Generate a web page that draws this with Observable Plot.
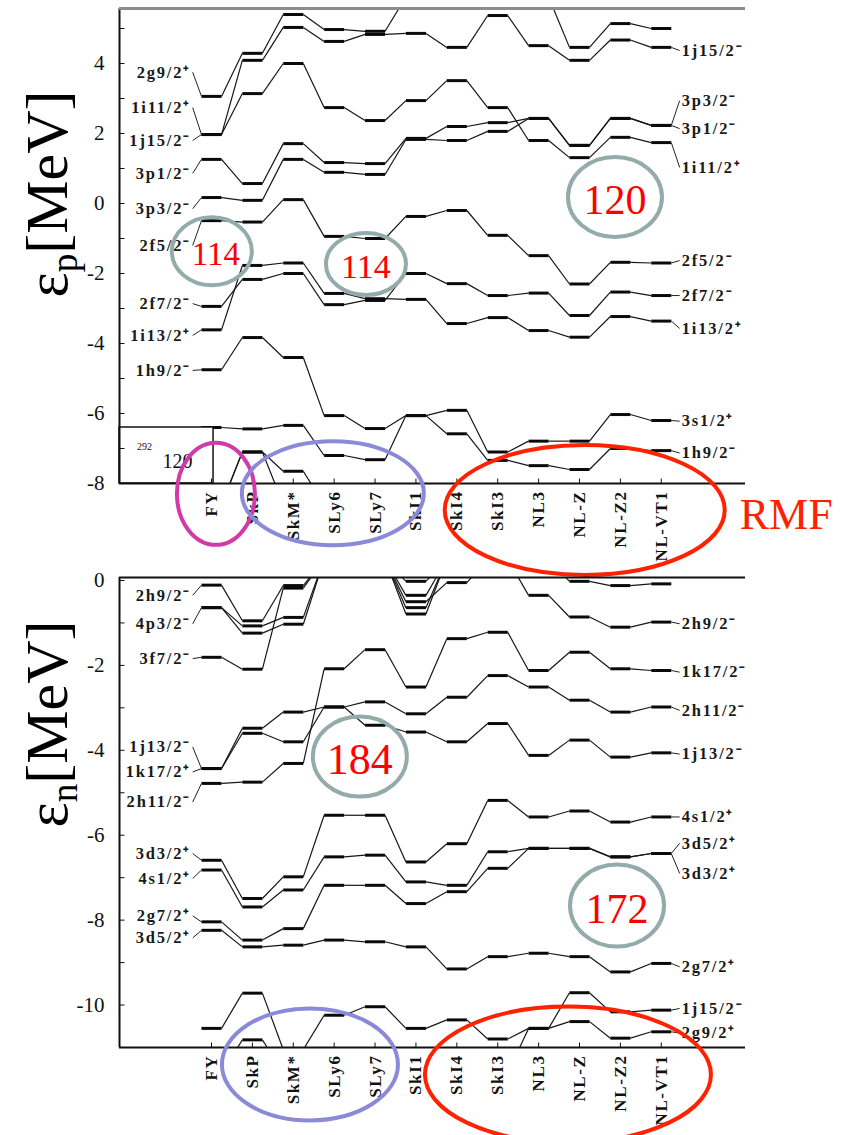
<!DOCTYPE html>
<html>
<head>
<meta charset="utf-8">
<script src="https://cdn.jsdelivr.net/npm/d3@7"></script>
<script src="https://cdn.jsdelivr.net/npm/@observablehq/plot@0.6"></script>
<style>
  html, body { margin: 0; padding: 0; background: #fff; }
  #page { position: relative; width: 846px; height: 1135px; overflow: hidden; background: #fff; }
  #page > svg { position: absolute; left: 0; overflow: visible; }
  #page g[font-size="16.5"] text { letter-spacing: 1.8px; }
  #page g[font-size="17"] text { letter-spacing: 1.6px; }
  .ytitle { position: absolute; white-space: nowrap; font-family: "Liberation Serif", "Times New Roman", serif;
            font-size: 60px; line-height: 1; transform: translate(-50%, -50%) rotate(-90deg); color: #000; }
  .ytitle sub { font-size: 62%; vertical-align: -0.25em; }
</style>
</head>
<body>
<div id="page">
  <div class="ytitle" style="left:50px; top:194px">ε<sub>p</sub>[MeV]</div>
  <div class="ytitle" style="left:50px; top:724px">ε<sub>n</sub>[MeV]</div>
</div>
<script>
// ---------------- data ----------------
const models = ["FY","SkP","SkM*","SLy6","SLy7","SkI1","SkI4","SkI3","NL3","NL-Z","NL-Z2","NL-VT1"];

// proton single-particle levels (MeV), one value per model
const p_2g9_2  = [3.06, 4.29, 5.40, 4.97, 4.92, 5.90, 5.90, 5.90, 5.90, 4.46, 5.14, 5.00];
const p_1j15_2 = [1.97, 4.09, 5.03, 4.63, 4.83, 4.86, 4.46, 5.37, 4.51, 4.09, 4.67, 4.46];
const p_1i11_2 = [1.97, 3.14, 4.00, 2.74, 2.37, 2.94, 3.51, 2.74, 1.80, 1.31, 1.89, 1.74];
const p_3p1_2  = [1.26, 0.57, 1.71, 1.17, 1.14, 1.86, 2.20, 2.31, 2.43, 1.66, 2.43, 2.23];
const p_3p3_2  = [0.17, 0.09, 1.26, 0.89, 0.83, 1.83, 1.80, 2.06, 2.43, 1.66, 2.43, 2.23];
const p_2f5_2  = [-0.49, -0.53, 0.11, -0.94, -1.00, -0.37, -0.20, -0.91, -1.49, -2.30, -1.68, -1.70];
const p_2f7_2  = [-2.94, -2.17, -2.00, -2.89, -2.77, -2.00, -2.29, -2.63, -2.56, -3.20, -2.53, -2.63];
const p_1i13_2 = [-3.61, -1.77, -1.70, -2.57, -2.72, -2.74, -3.43, -3.26, -3.63, -3.82, -3.23, -3.36];
const p_3s1_2  = [-4.75, -3.83, -4.40, -6.06, -6.43, -6.06, -5.91, -7.10, -6.79, -6.79, -6.03, -6.20];
const p_1h9_2  = [-6.40, -6.44, -6.34, -7.20, -7.32, -6.06, -6.58, -7.34, -7.49, -7.60, -7.00, -7.06];
const p_low_a  = [-8.60, -7.10, -7.65, -8.60, -8.60, -8.60, -8.60, -8.60, -8.60, -8.60, -8.60, -8.60];
const p_low_b  = [-8.60, -7.10, -8.60, -8.60, -8.60, -8.60, -8.60, -8.60, -8.60, -8.60, -8.60, -8.60];

const pLeftNames  = ["2g9/2⁺","1i11/2⁺","1j15/2⁻","3p1/2⁻","3p3/2⁻","2f5/2⁻","2f7/2⁻","1i13/2⁺","1h9/2⁻"];
const pLeftLabelE = [3.75, 2.74, 1.80, 0.86, -0.15, -1.20, -2.86, -3.77, -4.77];
const pLeftBarE   = [3.06, 1.97, 1.97, 1.26, 0.17, -0.49, -2.94, -3.61, -4.75];
const pRightNames  = ["1j15/2⁻","3p3/2⁻","3p1/2⁻","1i11/2⁺","2f5/2⁻","2f7/2⁻","1i13/2⁺","3s1/2⁺","1h9/2⁻"];
const pRightLabelE = [4.37, 2.94, 2.14, 1.03, -1.63, -2.63, -3.57, -6.22, -7.13];
const pRightBarE   = [4.46, 2.23, 2.23, 1.74, -1.70, -2.63, -3.36, -6.20, -7.06];
const pTicks = [4, 2, 0, -2, -4, -6, -8];

// neutron single-particle levels (MeV)
const n_2h9_2  = [-0.11, -0.95, -0.12, 0.50, 0.50, -0.35, 0.50, 0.50, -0.35, -0.86, -1.10, -0.98];
const n_4p3_2  = [-0.64, -1.07, -0.87, 0.50, 0.50, -0.50, -0.05, 0.50, 0.50, -0.02, -0.12, -0.08];
const n_4p1_2  = [-0.64, -1.24, -1.03, 0.50, 0.50, -0.64, 0.50, 0.50, 0.50, 0.50, 0.50, 0.50];
const n_3f7_2  = [-1.81, -2.09, -0.18, 0.50, 0.50, -0.79, 0.50, 0.50, 0.50, 0.50, 0.50, 0.50];
const n_3f5_2  = [0.50, 0.50, 0.50, 0.50, 0.50, -0.02, 0.50, 0.50, 0.50, 0.50, 0.50, 0.50];
const n_1k17_2 = [-4.78, -4.75, -4.31, -2.08, -1.63, -2.51, -1.37, -1.22, -2.12, -1.69, -2.08, -2.12];
const n_2h11_2 = [-4.43, -3.48, -3.10, -2.98, -2.86, -3.14, -2.75, -2.24, -2.51, -2.82, -3.10, -2.98];
const n_1j13_2 = [-4.43, -3.60, -3.80, -2.98, -3.41, -3.57, -3.80, -3.37, -4.12, -3.76, -4.16, -4.06];
const n_4s1_2  = [-6.59, -7.49, -6.98, -5.53, -5.53, -6.63, -6.20, -5.18, -5.57, -5.43, -5.69, -5.57];
const n_3d5_2  = [-6.82, -7.69, -7.29, -6.51, -6.47, -7.10, -7.18, -6.39, -6.31, -6.31, -6.51, -6.43];
const n_3d3_2  = [-8.04, -8.47, -8.20, -7.18, -7.18, -7.61, -7.33, -6.78, -6.31, -6.31, -6.51, -6.43];
const n_2g7_2  = [-8.24, -8.63, -8.59, -8.47, -8.51, -8.63, -9.15, -8.86, -8.78, -8.86, -9.22, -9.02];
const n_1j15_2 = [-10.55, -9.72, -11.05, -10.24, -10.04, -10.55, -10.35, -10.80, -10.55, -9.71, -10.16, -10.12];
const n_2g9_2  = [-11.60, -10.82, -11.60, -11.60, -11.60, -11.60, -11.60, -11.60, -10.55, -10.39, -10.78, -10.63];

const nLeftNames  = ["2h9/2⁻","4p3/2⁻","3f7/2⁻","1j13/2⁻","1k17/2⁺","2h11/2⁻","3d3/2⁺","4s1/2⁺","2g7/2⁺","3d5/2⁺"];
const nLeftLabelE = [-0.35, -1.02, -1.84, -3.92, -4.51, -5.22, -6.43, -7.02, -7.90, -8.42];
const nLeftBarE   = [-0.11, -0.64, -1.81, -4.43, -4.43, -4.78, -6.59, -6.82, -8.04, -8.24];
const nRightNames  = ["2h9/2⁻","1k17/2⁻","2h11/2⁻","1j13/2⁻","4s1/2⁺","3d5/2⁺","3d3/2⁺","2g7/2⁺","1j15/2⁻","2g9/2⁺"];
const nRightLabelE = [-1.02, -2.16, -3.06, -4.09, -5.57, -6.19, -6.90, -9.10, -10.08, -10.66];
const nRightBarE   = [-0.98, -2.12, -2.98, -4.06, -5.57, -6.43, -6.43, -9.02, -10.12, -10.63];
const nTicks = [0, -2, -4, -6, -8, -10];

// ---------------- drawing ----------------
const SERIF = "'Liberation Serif', 'Times New Roman', serif";
const HW = 0.245;          // half width of a level bar, in model-column units
const X0 = -2.25, X1 = 13.06;
const ML = 119, MR = 101;
const xPer = (846 - ML - MR) / (X1 - X0);

function geometry(levels) {
  const bars = [], links = [];
  for (const vals of levels) {
    vals.forEach((v, i) => {
      bars.push({xa: i - HW, xb: i + HW, y: v});
      if (i + 1 < vals.length) links.push({xa: i + HW, ya: v, xb: i + 1 - HW, yb: vals[i + 1]});
    });
  }
  return {bars, links};
}

function panel(cfg) {
  const {bars, links} = geometry(cfg.levels);
  const [ymin, ymax] = cfg.yDomain;
  const perUnit = (cfg.height - cfg.marginTop - cfg.marginBottom) / (ymax - ymin);
  const left = cfg.left.names.map((name, k) => ({name, le: cfg.left.labelE[k], be: cfg.left.barE[k]}));
  const right = cfg.right.names.map((name, k) => ({name, le: cfg.right.labelE[k], be: cfg.right.barE[k]}));
  const last = models.length - 1;
  const marks = [
    Plot.link(links, {x1: "xa", y1: "ya", x2: "xb", y2: "yb", stroke: "#161616", strokeWidth: 1.2, clip: true}),
    Plot.link(bars, {x1: "xa", x2: "xb", y1: "y", y2: "y", stroke: "#0a0a0a", strokeWidth: 3, clip: true}),
    ...(cfg.extra || []),
    Plot.ruleX([X0], {stroke: "#111", strokeWidth: 2}),
    Plot.ruleY([ymin], {stroke: "#111", strokeWidth: 2}),
    Plot.ruleY([ymax], {stroke: cfg.topColor, strokeWidth: cfg.topWidth}),
    Plot.link(d3.range(Math.ceil(ymin), Math.floor(ymax) + 1), {x1: X0, x2: X0 + 5 / xPer, y1: d => d, y2: d => d, stroke: "#111", strokeWidth: 1}),
    Plot.link(models, {x1: (d, i) => i, x2: (d, i) => i, y1: ymin, y2: ymin + 5 / perUnit, stroke: "#111", strokeWidth: 1}),
    Plot.text(cfg.ticks, {x: X0, y: d => d, text: d => String(d), textAnchor: "end", dx: -15, fontSize: 21, fontFamily: SERIF, fill: "#111"}),
    Plot.text(models, {x: (d, i) => i, y: ymin - 7 / perUnit, text: d => d, rotate: -90, textAnchor: "end", fontSize: 17, fontWeight: "bold", fontFamily: SERIF, fill: "#111"}),
    Plot.link(left, {x1: -0.46, x2: -HW, y1: "le", y2: "be", stroke: "#222", strokeWidth: 1}),
    Plot.link(right, {x1: last + HW, x2: last + 0.45, y1: "be", y2: "le", stroke: "#222", strokeWidth: 1}),
    Plot.text(left, {x: -0.5, y: "le", text: "name", textAnchor: "end", fontSize: 16.5, fontWeight: "bold", fontFamily: SERIF, fill: "#1a1a1a"}),
    Plot.text(right, {x: last + 0.5, y: "le", text: "name", textAnchor: "start", fontSize: 16.5, fontWeight: "bold", fontFamily: SERIF, fill: "#1a1a1a"})
  ];
  const plot = Plot.plot({
    width: 846, height: cfg.height,
    marginLeft: ML, marginRight: MR, marginTop: cfg.marginTop, marginBottom: cfg.marginBottom,
    x: {domain: [X0, X1], axis: null},
    y: {domain: [ymin, ymax], axis: null},
    style: {background: "none", overflow: "visible"},
    marks
  });
  plot.style.top = cfg.top + "px";
  const sx = plot.scale("x"), sy = plot.scale("y");
  const svg = d3.select(plot);
  for (const a of cfg.rings) {
    const cx = sx.apply(a.x), cy = sy.apply(a.y);
    svg.append("ellipse").attr("cx", cx).attr("cy", cy).attr("rx", a.rx).attr("ry", a.ry)
      .attr("fill", "none").attr("stroke", a.color).attr("stroke-width", 4);
    if (a.text) {
      svg.append("text").attr("x", cx + (a.tdx || 0)).attr("y", cy + 3).attr("text-anchor", "middle")
        .attr("dominant-baseline", "central").attr("font-family", SERIF).attr("font-size", a.size)
        .attr("fill", "#ff0000").text(a.text);
    }
  }
  for (const t of (cfg.notes || [])) {
    svg.append("text").attr("x", sx.apply(t.x)).attr("y", sy.apply(t.y)).attr("text-anchor", "start")
      .attr("dominant-baseline", "central").attr("font-family", SERIF).attr("font-size", t.size)
      .attr("fill", t.color).text(t.text);
  }
  document.getElementById("page").appendChild(plot);
}

const GREY = "#93abab", MAGENTA = "#d23aa8", BLUE = "#8a8ad8", RED = "#ff2200";

panel({
  top: 0, height: 575, marginTop: 8, marginBottom: 92,
  yDomain: [-8, 5.571], ticks: pTicks, topColor: "#8c8c8c", topWidth: 3,
  levels: [p_2g9_2, p_1j15_2, p_1i11_2, p_3p1_2, p_3p3_2, p_2f5_2, p_2f7_2, p_1i13_2, p_3s1_2, p_1h9_2, p_low_a, p_low_b],
  left: {names: pLeftNames, labelE: pLeftLabelE, barE: pLeftBarE},
  right: {names: pRightNames, labelE: pRightLabelE, barE: pRightBarE},
  extra: [
    Plot.rect([0], {x1: X0, x2: 0.05, y1: -8, y2: -6.4, fill: "white", stroke: "#111", strokeWidth: 1.5}),
    Plot.text(["120"], {x: -0.83, y: -7.36, text: d => d, fontSize: 20, fontFamily: SERIF, fill: "#111"}),
    Plot.text(["292"], {x: -1.64, y: -6.95, text: d => d, fontSize: 10, fontFamily: SERIF, fill: "#111"})
  ],
  rings: [
    {x: 0.02, y: -1.38, rx: 40, ry: 34, color: GREY, text: "114", size: 33, tdx: 4},
    {x: 3.79, y: -1.74, rx: 40, ry: 31, color: GREY, text: "114", size: 34},
    {x: 9.88, y: 0.17, rx: 47, ry: 40, color: GREY, text: "120", size: 42},
    {x: 0.12, y: -8.31, rx: 39, ry: 51, color: MAGENTA},
    {x: 2.98, y: -8.29, rx: 91, ry: 52, color: BLUE},
    {x: 9.14, y: -8.77, rx: 140, ry: 65, color: RED}
  ],
  notes: [{x: 12.93, y: -8.9, text: "RMF", size: 44, color: RED}]
});

panel({
  top: 575, height: 560, marginTop: 2, marginBottom: 88,
  yDomain: [-11, 0.07], ticks: nTicks, topColor: "#111", topWidth: 2,
  levels: [n_2h9_2, n_4p3_2, n_4p1_2, n_3f7_2, n_3f5_2, n_1k17_2, n_2h11_2, n_1j13_2, n_4s1_2, n_3d5_2, n_3d3_2, n_2g7_2, n_1j15_2, n_2g9_2],
  left: {names: nLeftNames, labelE: nLeftLabelE, barE: nLeftBarE},
  right: {names: nRightNames, labelE: nRightLabelE, barE: nRightBarE},
  rings: [
    {x: 3.64, y: -4.16, rx: 47, ry: 40, color: GREY, text: "184", size: 44},
    {x: 9.93, y: -7.67, rx: 47, ry: 41, color: GREY, text: "172", size: 42},
    {x: 2.42, y: -11.41, rx: 88, ry: 56, color: BLUE},
    {x: 8.73, y: -11.65, rx: 143, ry: 68, color: RED}
  ]
});
</script>
</body>
</html>
